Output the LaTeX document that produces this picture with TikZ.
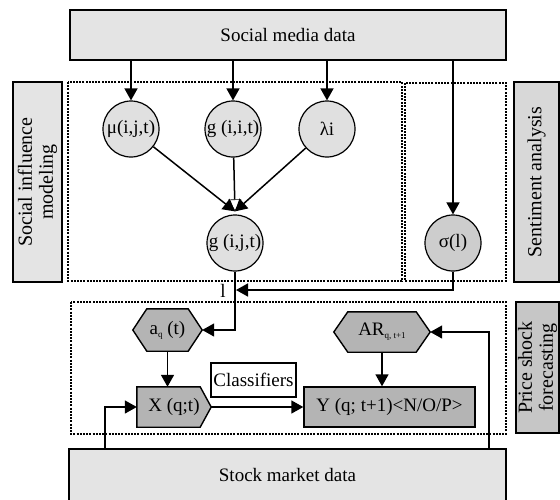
\documentclass[tikz,border=0pt]{standalone}
\usepackage{fontspec}
\setmainfont{Liberation Serif}
\usetikzlibrary{arrows.meta,backgrounds,calc}

\definecolor{datafill}{HTML}{E4E4E4}
\definecolor{circfill}{HTML}{E0E0E0}
\definecolor{sigfill}{HTML}{CDCDCD}
\definecolor{darkfill}{HTML}{B4B4B4}
\definecolor{sentfill}{HTML}{D8D8D8}
\definecolor{pricefill}{HTML}{C6C6C6}

\newcommand{\lowsub}[1]{\raisebox{-0.35ex}{\fontsize{9}{9}\selectfont #1}}

\tikzset{
  txt/.style={font=\fontsize{19}{21}\selectfont, text=black},
  databox/.style={txt, draw=black, line width=1.6pt, fill=datafill, inner sep=0pt},
  labelbox/.style={draw=black, line width=1.6pt, inner sep=0pt, rotate=90, align=center,
                   font=\fontsize{20}{21}\selectfont},
  varcirc/.style={txt, circle, draw=black, line width=1.2pt, fill=circfill,
                  minimum size=56pt, inner sep=0pt},
  slot/.style={txt, inner sep=0pt},
  shapefill/.style={draw=black, line width=1.4pt, fill=darkfill},
  zone/.style={line width=2pt, dash pattern=on 2pt off 1.2pt},
  arr/.style={line width=1.5pt, -{Triangle[length=12pt,width=13pt]}},
  arrhollow/.style={line width=1.5pt,
    -{Triangle[length=12pt,width=13pt,fill=white,line width=0.6pt]}},
}

\begin{document}
\begin{tikzpicture}[x=1pt,y=-1pt]
\clip (0,0) rectangle (560,499);

% data sources
\node[databox, minimum width=436pt, minimum height=50pt] (media) at (288,35) {Social media data};
\node[databox, minimum width=437pt, minimum height=52pt] (stock) at (287.5,475) {Stock market data};

% side labels
\node[labelbox, fill=datafill, minimum width=200pt, minimum height=49pt] (lblsoc) at (37.5,182)
  {Social influence\\modeling};
\node[labelbox, fill=sentfill, minimum width=200pt, minimum height=45pt] (lblsent) at (536.5,182)
  {Sentiment analysis};
\node[labelbox, fill=pricefill, minimum width=131pt, minimum height=43pt] (lblprice) at (537.5,367.5)
  {Price shock\\forecasting};

% dotted stage frames
\draw[zone] (68,82) rectangle (402,281);
\draw[zone] (405,83) rectangle (506,281);
\draw[zone] (71,302) rectangle (506,434);

% influence variables
\node[varcirc] (mu)  at (131,129) {μ(i,j,t)};
\node[varcirc] (gii) at (233,129) {g (i,i,t)};
\node[varcirc] (lam) at (327,129) {λi};
\node[varcirc] (gij) at (235,243) {g (i,j,t)};
\node[varcirc, fill=sigfill] (sig) at (453,243) {σ(l)};

% forecasting elements
\node[slot, minimum width=69pt, minimum height=42pt] (aq) at (167.5,330) {a\lowsub{q} (t)};
\node[slot, minimum width=96pt, minimum height=40pt] (ar) at (382,332) {AR\lowsub{q, t+1}};
\node[slot, minimum width=74pt, minimum height=40pt] (xq) at (174,407) {X (q;t)};
\node[txt, draw=black, line width=1.4pt, fill=darkfill, inner sep=0pt,
      minimum width=171pt, minimum height=40pt] (yq) at (389.5,407) {Y (q; t+1)<N/O/P>};
\node[txt, draw=black, line width=1.4pt, fill=white, inner sep=0pt,
      minimum width=85pt, minimum height=34pt] (cls) at (253.5,380) {Classifiers};

\begin{pgfonlayer}{background}
  \fill[white] (0,0) rectangle (560,499);
  \draw[shapefill] (aq.west) -- ([xshift=14pt]aq.north west) -- ([xshift=-14pt]aq.north east)
    -- (aq.east) -- ([xshift=-14pt]aq.south east) -- ([xshift=14pt]aq.south west) -- cycle;
  \draw[shapefill] (ar.west) -- ([xshift=14pt]ar.north west) -- ([xshift=-14pt]ar.north east)
    -- (ar.east) -- ([xshift=-14pt]ar.south east) -- ([xshift=14pt]ar.south west) -- cycle;
  \draw[shapefill] (xq.north west) -- ([xshift=-11pt]xq.north east) -- (xq.east)
    -- ([xshift=-11pt]xq.south east) -- (xq.south west) -- cycle;
\end{pgfonlayer}

% social media feeds
\draw[arr] (media.south -| mu) -- (mu);
\draw[arr] (media.south -| gii) -- (gii);
\draw[arr] (media.south -| lam) -- (lam);
\draw[arr] (media.south -| sig) -- (sig);

% influence combination, all heads meeting just above g(i,j,t)
\coordinate (meet) at ([yshift=3pt]gij.north);
\draw[arrhollow] (gii) -- (meet);
\draw[arr] (mu) -- (meet);
\draw[arr] (lam) -- (meet);

% sentiment joins the influence signal
\coordinate (join) at (gij.south |- 0,290);
\node[txt, inner sep=0pt] (lvar) at (223,291) {l};
\draw[arr, shorten >=1pt] (sig.south) |- (join);
\draw[arr] (gij.south) |- (aq.east);

% forecasting flow
\draw[arr] (aq.south) -- (aq.south |- xq.north);
\draw[arr] (xq.east) -- (yq.west);
\draw[arr] (ar.south) -- (ar.south |- yq.north);

% market data inputs
\draw[arr] ([xshift=37pt]stock.north west) |- (xq.west);
\draw[arr] ([xshift=-18pt]stock.north east) |- (ar.east);
\end{tikzpicture}
\end{document}
